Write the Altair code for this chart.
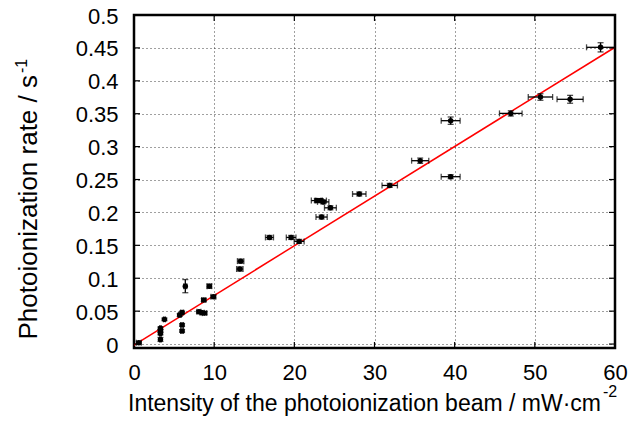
import altair as alt
import pandas as pd

# ---- data ----
xs = [0.6, 3.3, 3.3, 3.3, 3.3, 3.8, 6.0, 6.0, 5.7, 6.0, 6.4, 8.1, 8.5, 8.8, 8.7, 9.4, 9.9,
      13.2, 13.3, 16.9, 19.6, 20.6, 22.8, 23.3, 23.6, 24.5, 23.4, 28.1, 31.9, 35.7, 39.5,
      39.5, 47.0, 50.7, 54.4, 58.2]
ys = [0.002, 0.007, 0.016, 0.020, 0.024, 0.0375, 0.020, 0.029, 0.044, 0.048, 0.088, 0.049,
      0.0476, 0.047, 0.067, 0.088, 0.072, 0.114, 0.126, 0.162, 0.162, 0.156, 0.218, 0.218,
      0.216, 0.207, 0.193, 0.228, 0.241, 0.2786, 0.3394, 0.2543, 0.3505, 0.3754, 0.3719,
      0.4509]
xerrs = [0.3, 0.1, 0.1, 0.1, 0.1, 0.12, 0.18, 0.18, 0.17, 0.18, 0.19, 0.25, 0.26, 0.27,
         0.26, 0.28, 0.3, 0.4, 0.4, 0.5, 0.6, 0.62, 0.68, 0.7, 0.71, 0.74, 0.7, 0.84, 0.96,
         1.07, 1.18, 1.18, 1.41, 1.52, 1.63, 1.75]
yerrs = [0.002, 0.003, 0.002, 0.002, 0.002, 0.002, 0.002, 0.002, 0.002, 0.002, 0.010, 0.002,
         0.002, 0.002, 0.002, 0.003, 0.002, 0.003, 0.003, 0.003, 0.003, 0.003, 0.003, 0.003,
         0.003, 0.003, 0.003, 0.003, 0.003, 0.004, 0.0056, 0.003, 0.004, 0.005, 0.006, 0.007]

fit_x = [0, 60]
fit_y = [-0.0015, 0.451]

xticks = [0, 10, 20, 30, 40, 50, 60]
yticks = [0, 0.05, 0.1, 0.15, 0.2, 0.25, 0.3, 0.35, 0.4, 0.45, 0.5]

xtitle_main = "Intensity of the photoionization beam / mW·cm"
xtitle_sup = "-2"
ytitle_main = "Photoionization rate / s"
ytitle_sup = "-1"

W, H = 481, 333
FONT = "Liberation Sans"

df = pd.DataFrame({"x": xs, "y": ys, "xerr": xerrs, "yerr": yerrs})
df["xlo"] = df.x - df.xerr
df["xhi"] = df.x + df.xerr
df["ylo"] = df.y - df.yerr
df["yhi"] = df.y + df.yerr

fitdf = pd.DataFrame({"x": fit_x, "y": fit_y})

xscale = alt.Scale(domain=[0, 60], nice=False, zero=False)
yscale = alt.Scale(domain=[-0.006, 0.5], nice=False, zero=False)

grid_common = dict(grid=True, gridDash=[1, 3], gridColor="#000000", gridOpacity=0.75,
                   gridWidth=1, domain=False, ticks=False, labelFont=FONT,
                   labelColor="#000000", title="", labelFlush=False, labelOverlap=False)
xaxis = alt.Axis(values=xticks, labelFontSize=22, labelPadding=14, **grid_common)
yaxis = alt.Axis(values=yticks, labelFontSize=22, labelPadding=16, labelOffset=1,
                 labelExpr="datum.value + ''", **grid_common)


def X(f):
    return alt.X(f, type="quantitative", scale=xscale, axis=xaxis)


def Y(f):
    return alt.Y(f, type="quantitative", scale=yscale, axis=yaxis)


fit = alt.Chart(fitdf).mark_line(color="#ff0000", strokeWidth=1.5, clip=True).encode(
    x=X("x"), y=Y("y"))

xbars = alt.Chart(df).mark_rule(color="black", strokeWidth=1.3).encode(
    x=X("xlo"), x2="xhi", y=Y("y"))
ybars = alt.Chart(df).mark_rule(color="black", strokeWidth=1.3).encode(
    x=X("x"), y=Y("ylo"), y2="yhi")
xcap_lo = alt.Chart(df).mark_tick(color="black", orient="vertical", size=6, thickness=1.3).encode(
    x=X("xlo"), y=Y("y"))
xcap_hi = alt.Chart(df).mark_tick(color="black", orient="vertical", size=6, thickness=1.3).encode(
    x=X("xhi"), y=Y("y"))
ycap_lo = alt.Chart(df).mark_tick(color="black", orient="horizontal", size=6, thickness=1.3).encode(
    x=X("x"), y=Y("ylo"))
ycap_hi = alt.Chart(df).mark_tick(color="black", orient="horizontal", size=6, thickness=1.3).encode(
    x=X("x"), y=Y("yhi"))
pts = alt.Chart(df).mark_circle(color="black", size=30, opacity=1).encode(
    x=X("x"), y=Y("y"))

ytdf = pd.DataFrame({"v": yticks[:-1]})
xtdf = pd.DataFrame({"v": xticks[1:-1]})
TL = 6
tick_left = alt.Chart(ytdf).mark_rule(color="black", strokeWidth=1.2).encode(
    y=Y("v"), x=alt.value(0), x2=alt.value(TL))
tick_right = alt.Chart(ytdf).mark_rule(color="black", strokeWidth=1.2).encode(
    y=Y("v"), x=alt.value(W - TL), x2=alt.value(W))
tick_bottom = alt.Chart(xtdf).mark_rule(color="black", strokeWidth=1.2).encode(
    x=X("v"), y=alt.value(H - TL), y2=alt.value(H))
tick_top = alt.Chart(xtdf).mark_rule(color="black", strokeWidth=1.2).encode(
    x=X("v"), y=alt.value(0), y2=alt.value(TL))

txt = dict(font=FONT, color="black")
xt_main = alt.Chart(pd.DataFrame({"t": [xtitle_main]})).mark_text(
    align="right", baseline="alphabetic", fontSize=23, **txt).encode(
    text="t:N", x=alt.value(467), y=alt.value(396))
xt_sup = alt.Chart(pd.DataFrame({"t": [xtitle_sup]})).mark_text(
    align="left", baseline="alphabetic", fontSize=16, **txt).encode(
    text="t:N", x=alt.value(469), y=alt.value(382))
yt_main = alt.Chart(pd.DataFrame({"t": [ytitle_main]})).mark_text(
    align="right", baseline="alphabetic", fontSize=26, angle=270, **txt).encode(
    text="t:N", x=alt.value(-97), y=alt.value(60))
yt_sup = alt.Chart(pd.DataFrame({"t": [ytitle_sup]})).mark_text(
    align="left", baseline="alphabetic", fontSize=16, angle=270, **txt).encode(
    text="t:N", x=alt.value(-107), y=alt.value(58))

chart = alt.layer(
    fit, xbars, ybars, xcap_lo, xcap_hi, ycap_lo, ycap_hi, pts,
    tick_left, tick_right, tick_bottom, tick_top,
    xt_main, xt_sup, yt_main, yt_sup,
).properties(
    width=W, height=H,
    padding={"left": 126, "top": 7, "right": 19, "bottom": 68},
    autosize=alt.AutoSizeParams(type="none"),
    background="white",
).configure_view(stroke="black", strokeWidth=2.5)

chart.save("out.html", embed_options={"renderer": "svg", "actions": False})
